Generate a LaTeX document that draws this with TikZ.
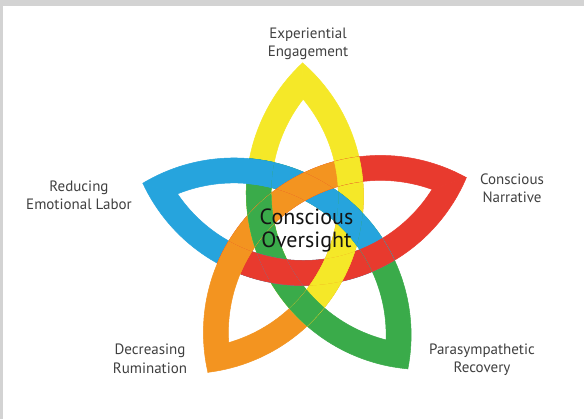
\documentclass[tikz,border=0pt]{standalone}
\usepackage{fontspec}
\setmainfont{PT Sans}
\definecolor{frameGray}{RGB}{211,211,211}
\definecolor{cY}{RGB}{245,232,40}
\definecolor{cB}{RGB}{38,164,221}
\definecolor{cR}{RGB}{232,58,46}
\definecolor{cO}{RGB}{243,148,32}
\definecolor{cG}{RGB}{58,171,74}
\definecolor{labelGray}{RGB}{64,64,64}
\definecolor{centerInk}{RGB}{20,20,20}
% half-bands of a lens whose axis points at angle #1 (outer tip 170 from centre)
\newcommand\lensPlus[1]{({#1}:170.1) arc[start angle={#1+42}, end angle={#1+138}, radius=177.1] -- ({#1+180}:56.85) arc[start angle={#1+128.82}, end angle={#1+51.18}, radius=152.1] -- cycle}
\newcommand\lensMinus[1]{({#1+180}:93.1) arc[start angle={#1+222}, end angle={#1+318}, radius=177.1] -- ({#1}:133.85) arc[start angle={#1+308.82}, end angle={#1+231.18}, radius=152.1] -- cycle}
\def\aY{91}
\def\aB{163}
\def\aR{19}
\def\aO{235}
\def\aG{307}
\tikzset{
  band/.style={fill=#1, draw=#1, line width=0.5pt, line join=round},
  lbl/.style={font=\fontsize{15}{18}\selectfont, text=labelGray, inner sep=0pt, anchor=base},
  ctr/.style={font=\fontsize{22}{26}\selectfont, text=centerInk, inner sep=0pt, anchor=base}
}
% strands: each a circular band shared by two lenses
\newcommand\stA{\path[band=cY]\lensPlus{\aY};\path[band=cG]\lensMinus{\aG};}
\newcommand\stB{\path[band=cB]\lensPlus{\aB};\path[band=cR]\lensMinus{\aR};}
\newcommand\stC{\path[band=cO]\lensPlus{\aO};\path[band=cY]\lensMinus{\aY};}
\newcommand\stD{\path[band=cG]\lensPlus{\aG};\path[band=cB]\lensMinus{\aB};}
\newcommand\stE{\path[band=cR]\lensPlus{\aR};\path[band=cO]\lensMinus{\aO};}
\newcommand\rgA{\lensPlus{\aY}\lensMinus{\aG}}
\newcommand\rgB{\lensPlus{\aB}\lensMinus{\aR}}
\newcommand\rgC{\lensPlus{\aO}\lensMinus{\aY}}
\newcommand\rgD{\lensPlus{\aG}\lensMinus{\aB}}
\newcommand\rgE{\lensPlus{\aR}\lensMinus{\aO}}
\begin{document}
\begin{tikzpicture}[x=1pt,y=1pt]
\useasboundingbox (0,0) rectangle (584,419);
\fill[frameGray] (0,0) rectangle (584,419);
\fill[white] (3,0) rectangle (584,413);
\begin{scope}[shift={(305.5,186)}]
  \stA \stB \stC \stD \stE
  \begin{scope}\clip \rgE; \stC \end{scope}
  \begin{scope}\clip \rgA; \stD \end{scope}
  \begin{scope}\clip \rgB; \stE \end{scope}
  \begin{scope}\clip \rgC; \stA \end{scope}
  \begin{scope}\clip \rgD; \stB \end{scope}
  \begin{scope}\clip \rgE; \stA \end{scope}
  \begin{scope}\clip \rgA; \stB \end{scope}
  \begin{scope}\clip \rgB; \stC \end{scope}
  \begin{scope}\clip \rgC; \stD \end{scope}
  \begin{scope}\clip \rgD; \stE \end{scope}
\end{scope}
\node[lbl] (ee1) at (308,380) {Experiential};
\node[lbl] (ee2) at (308,362) {Engagement};
\node[lbl] (re1) at (79,227) {Reducing};
\node[lbl] (re2) at (79,209) {Emotional Labor};
\node[lbl] (cn1) at (512,234) {Conscious};
\node[lbl] (cn2) at (512,216) {Narrative};
\node[lbl] (dr1) at (150,64) {Decreasing};
\node[lbl] (dr2) at (150,45) {Rumination};
\node[lbl] (pr1) at (482,64) {Parasympathetic};
\node[lbl] (pr2) at (482,46) {Recovery};
\node[ctr] (co1) at (306.5,194) {Conscious};
\node[ctr] (co2) at (306.5,171) {Oversight};
\end{tikzpicture}
\end{document}
